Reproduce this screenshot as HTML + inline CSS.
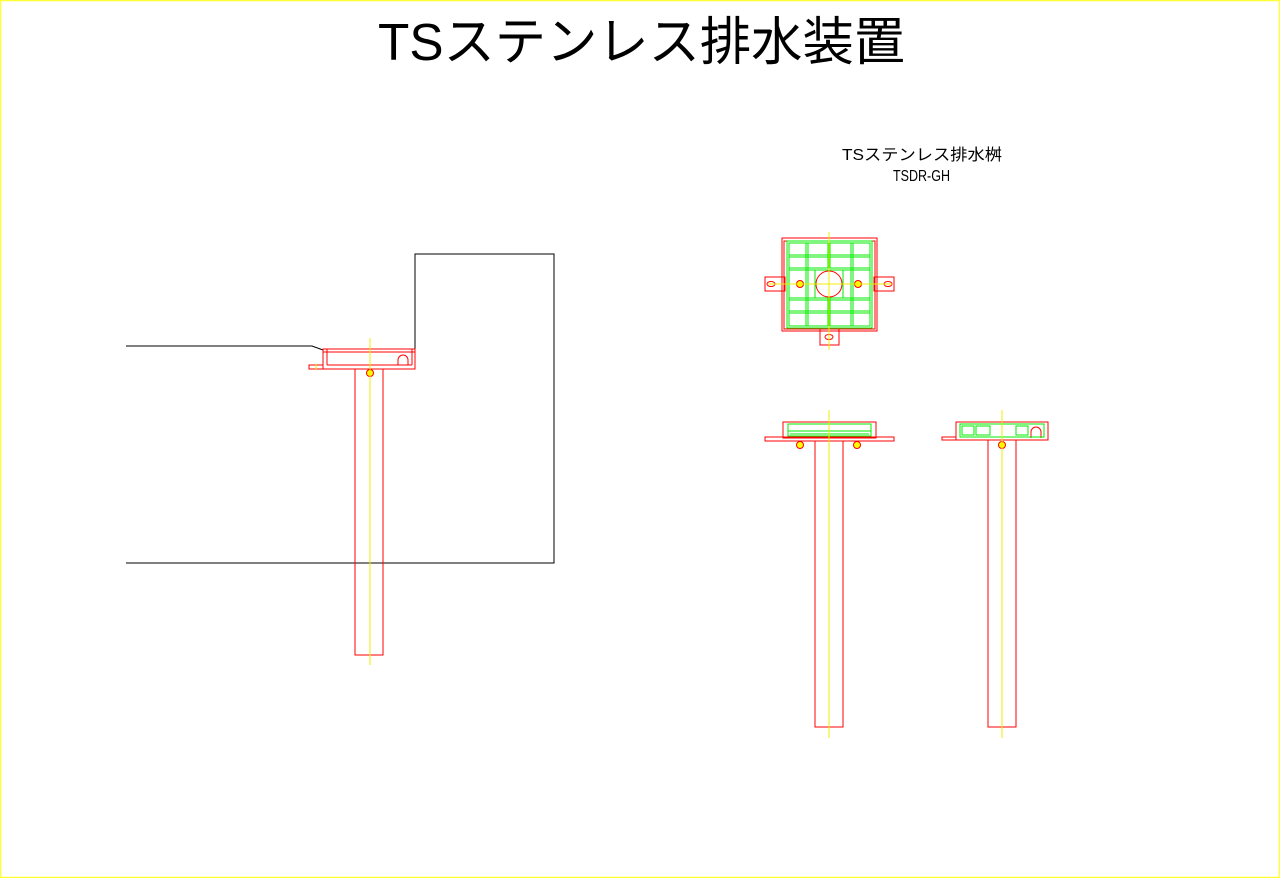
<!DOCTYPE html>
<html><head><meta charset="utf-8"><style>
html,body{margin:0;padding:0;background:#fff;}
svg{display:block;}
text{font-family:"Liberation Sans","Noto Sans CJK JP",sans-serif;}
</style></head><body>
<svg width="1280" height="878" viewBox="0 0 1280 878" xmlns="http://www.w3.org/2000/svg">
<rect x="0.5" y="0.5" width="1279" height="877" fill="#fff" stroke="#ffff33" stroke-width="1.5"/>
<text x="378" y="60" font-size="52" textLength="527" lengthAdjust="spacingAndGlyphs">TSステンレス排水装置</text>
<text x="842" y="160" font-size="16" textLength="160" lengthAdjust="spacingAndGlyphs">TSステンレス排水桝</text>
<text x="893" y="181" font-size="16" textLength="57" lengthAdjust="spacingAndGlyphs">TSDR-GH</text>

<!-- left section: black -->
<g fill="none" stroke="#000" stroke-width="1">
<polyline points="126,346 312,346 323,350"/>
<polyline points="415,350 415,254 554,254 554,563 126,563"/>
</g>
<g fill="none" stroke="#f00" stroke-width="1">
<rect x="323" y="349" width="92" height="20"/>
<line x1="327" y1="349" x2="327" y2="365"/>
<line x1="327" y1="365" x2="412" y2="365"/>
<line x1="412" y1="349" x2="412" y2="365"/>
<line x1="323" y1="352" x2="415" y2="352"/>
<rect x="309" y="365" width="14" height="4"/>
<rect x="355" y="369" width="28" height="286"/>
<path d="M398,365 V360 A5,5 0 0 1 408,360 V365"/>
<circle cx="370" cy="373" r="3.5" fill="#ff0"/>
</g>
<line x1="370" y1="338" x2="370" y2="665" stroke="#ee0" stroke-width="1"/>
<line x1="316" y1="364" x2="316" y2="370" stroke="#ee0"/>

<!-- plan view -->
<g fill="none" stroke="#f00" stroke-width="1">
<rect x="782" y="238" width="95" height="93"/>
<rect x="784" y="241" width="91" height="88"/>
<rect x="765" y="277" width="20" height="14"/>
<rect x="874" y="277" width="20" height="14"/>
<rect x="820" y="329" width="19" height="16"/>
<ellipse cx="771" cy="284" rx="4" ry="2.5"/>
<ellipse cx="888" cy="284" rx="4" ry="2.5"/>
<ellipse cx="829" cy="337" rx="4" ry="2.5"/>
<circle cx="829" cy="284" r="13"/>
<circle cx="800" cy="284" r="3.5" fill="#ff0"/>
<circle cx="858" cy="284" r="3.5" fill="#ff0"/>
</g>
<g fill="none" stroke="#0e0" stroke-width="1">
<rect x="787" y="241" width="85" height="87"/>
<rect x="789" y="243" width="81" height="83"/>
<line x1="806" y1="243" x2="806" y2="326"/><line x1="808" y1="243" x2="808" y2="326"/>
<line x1="828" y1="243" x2="828" y2="268"/><line x1="830" y1="243" x2="830" y2="268"/>
<line x1="828" y1="298" x2="828" y2="326"/><line x1="830" y1="298" x2="830" y2="326"/>
<line x1="851" y1="243" x2="851" y2="326"/><line x1="853" y1="243" x2="853" y2="326"/>
<line x1="789" y1="255" x2="870" y2="255"/><line x1="789" y1="257" x2="870" y2="257"/>
<line x1="789" y1="268" x2="870" y2="268"/><line x1="789" y1="270" x2="870" y2="270"/>
<line x1="789" y1="298" x2="870" y2="298"/><line x1="789" y1="300" x2="870" y2="300"/>
<line x1="789" y1="311" x2="870" y2="311"/><line x1="789" y1="313" x2="870" y2="313"/>
<line x1="815" y1="270" x2="815" y2="298"/><line x1="843" y1="270" x2="843" y2="298"/>
</g>
<line x1="829" y1="232" x2="829" y2="350" stroke="#ee0"/>
<line x1="768" y1="284" x2="892" y2="284" stroke="#ee0"/>

<!-- side view 1 -->
<g fill="none" stroke="#f00" stroke-width="1">
<rect x="783" y="422" width="93" height="16"/>
<rect x="765" y="437" width="129" height="4"/>
<rect x="815" y="441" width="28" height="286"/>
<circle cx="800" cy="445" r="3.5" fill="#ff0"/>
<circle cx="857" cy="445" r="3.5" fill="#ff0"/>
</g>
<g fill="none" stroke="#0e0">
<rect x="788" y="424" width="83" height="12"/>
<line x1="788" y1="431" x2="871" y2="431"/>
<line x1="790" y1="434" x2="869" y2="434"/>
</g>
<line x1="829" y1="410" x2="829" y2="738" stroke="#ee0"/>

<!-- side view 2 -->
<g fill="none" stroke="#f00" stroke-width="1">
<rect x="956" y="422" width="92" height="18"/>
<rect x="942" y="437" width="14" height="3"/>
<rect x="988" y="440" width="28" height="287"/>
<path d="M1031,438 V432 A5,5 0 0 1 1041,432 V438"/>
<circle cx="1002" cy="445" r="3.5" fill="#ff0"/>
</g>
<g fill="none" stroke="#0e0">
<rect x="960" y="424" width="84" height="13"/>
<rect x="962" y="426" width="12" height="9"/>
<rect x="976" y="426" width="14" height="9"/>
<rect x="1016" y="426" width="12" height="9"/>
</g>
<line x1="1002" y1="410" x2="1002" y2="738" stroke="#ee0"/>
</svg>
</body></html>
